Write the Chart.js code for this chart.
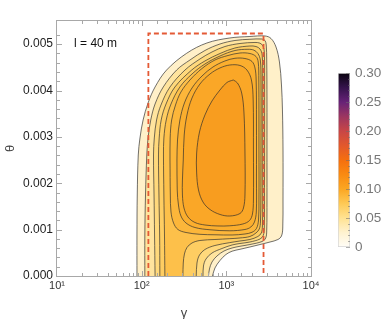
<!DOCTYPE html>
<html><head><meta charset="utf-8">
<script src="https://cdn.jsdelivr.net/npm/chart.js@4"></script>
<style>
html,body{margin:0;padding:0;background:#fff;}
#wrap{position:relative;width:390px;height:319px;overflow:hidden;}
#main{position:absolute;left:0;top:0;}
#cb{position:absolute;left:338px;top:60px;}
</style></head><body>
<div id="wrap"><canvas id="main" width="390" height="319"></canvas><canvas id="cb" width="52" height="200"></canvas></div>
<script>
// ---------- data ----------
const xRange = [10, 10000];          // gamma axis (log)
const yRange = [0, 0.0055];          // theta axis
const yMinorStep = 0.0002;
const yMajorStep = 0.001;
const contourLevels = [0.01, 0.02, 0.03, 0.04, 0.05, 0.06, 0.07, 0.08, 0.09];

const c1Gamma = [88, 88, 88.7, 91.2, 95.5, 104, 119, 144, 197, 340, 590, 1100, 1900, 2860, 3370, 3860, 4240, 4480, 4600, 4670, 4670, 4640, 4480, 4070, 3280, 2500, 1900, 1450, 1170, 990, 841, 734, 686];
const c1Theta = [0, 0.000884, 0.001747, 0.002610, 0.002977, 0.003365, 0.003732, 0.004077, 0.004443, 0.004804, 0.005026, 0.005134, 0.005166, 0.005177, 0.005123, 0.004940, 0.004616, 0.004120, 0.003581, 0.002718, 0.001639, 0.001035, 0.000863, 0.000787, 0.000733, 0.000679, 0.000626, 0.000576, 0.000535, 0.000464, 0.000334, 0.000173, 0];

const c2Gamma = [109, 109, 111, 115, 119, 128, 144, 180, 259, 372, 559, 841, 1265, 1900, 2640, 2860, 2960, 3000, 3020, 3020, 3020, 3000, 2920, 2640, 1900, 1450, 1170, 938, 775, 677, 632, 615];
const c2Theta = [0, 0.000884, 0.001747, 0.002610, 0.002977, 0.003365, 0.003710, 0.004077, 0.004443, 0.004659, 0.004864, 0.005004, 0.005080, 0.005106, 0.005112, 0.005080, 0.004983, 0.004659, 0.003796, 0.002718, 0.001639, 0.000992, 0.000820, 0.000744, 0.000679, 0.000641, 0.000604, 0.000539, 0.000431, 0.000302, 0.000151, 0];

const c3Gamma = [144, 142, 140, 138, 141, 150, 169, 216, 325, 488, 677, 963, 1450, 2180, 2500, 2710, 2810, 2830, 2830, 2820, 2810, 2730, 2500, 1900, 1450, 1170, 888, 677, 575, 537, 530];
const c3Theta = [0, 0.000884, 0.001747, 0.002610, 0.002977, 0.003365, 0.003688, 0.004077, 0.004443, 0.004681, 0.004832, 0.004950, 0.005015, 0.005037, 0.005022, 0.004961, 0.004832, 0.004228, 0.002718, 0.001639, 0.001035, 0.000874, 0.000798, 0.000733, 0.000701, 0.000669, 0.000593, 0.000496, 0.000367, 0.000216, 0];

const c4Gamma = [164, 163, 160, 158, 161, 170, 194, 247, 390, 559, 841, 1265, 1900, 2240, 2500, 2650, 2690, 2690, 2690, 2670, 2590, 2360, 1900, 1450, 1100, 734, 559, 482, 450, 441];
const c4Theta = [0, 0.000884, 0.001747, 0.002610, 0.002977, 0.003365, 0.003710, 0.004077, 0.004443, 0.004638, 0.004799, 0.004918, 0.004961, 0.004950, 0.004896, 0.004767, 0.004228, 0.002718, 0.001639, 0.001079, 0.000928, 0.000852, 0.000787, 0.000755, 0.000720, 0.000658, 0.000572, 0.000453, 0.000280, 0];

const c5Gamma = [188, 186, 183, 181, 183, 195, 222, 283, 393, 559, 841, 1265, 1800, 2120, 2360, 2520, 2570, 2570, 2560, 2530, 2450, 2240, 1900, 1450, 1100, 734, 488, 393, 343, 320, 310, 307];
const c5Theta = [0, 0.000884, 0.001747, 0.002610, 0.002977, 0.003365, 0.003710, 0.004077, 0.004357, 0.004573, 0.004745, 0.004864, 0.004890, 0.004871, 0.004799, 0.004659, 0.004228, 0.002718, 0.001639, 0.001165, 0.001014, 0.000928, 0.000852, 0.000820, 0.000805, 0.000787, 0.000766, 0.000712, 0.000615, 0.000475, 0.000280, 0];

const c6Gamma = [216, 218, 222, 238, 268, 334, 488, 734, 1170, 1660, 2010, 2270, 2400, 2430, 2430, 2420, 2380, 2240, 1900, 1450, 1045, 734, 516, 372, 291, 251, 226, 217];
const c6Theta = [0.002502, 0.001747, 0.001380, 0.001143, 0.001003, 0.000938, 0.000899, 0.000889, 0.000884, 0.000906, 0.000943, 0.001025, 0.001208, 0.001639, 0.002718, 0.004228, 0.004616, 0.004735, 0.004799, 0.004810, 0.004756, 0.004659, 0.004476, 0.004228, 0.003969, 0.003688, 0.003365, 0.002977];

const c7Gamma = [261, 263, 272, 291, 334, 426, 641, 1100, 1660, 1950, 2150, 2260, 2270, 2270, 2250, 2180, 2010, 1660, 1265, 963, 695, 516, 393, 320, 283, 265];
const c7Theta = [0.002502, 0.001855, 0.001531, 0.001294, 0.001143, 0.001046, 0.000997, 0.000975, 0.001003, 0.001057, 0.001165, 0.001380, 0.002071, 0.003365, 0.004228, 0.004487, 0.004627, 0.004691, 0.004696, 0.004638, 0.004508, 0.004314, 0.004055, 0.003732, 0.003365, 0.002934];

const c8Gamma = [310, 303, 303, 316, 352, 426, 559, 796, 1100, 1570, 1880, 2035, 2090, 2090, 2075, 1980, 1750, 1450, 1100, 841, 641, 488, 393, 343, 318];
const c8Theta = [0.002502, 0.002071, 0.001747, 0.001467, 0.001273, 0.001154, 0.001100, 0.001079, 0.001083, 0.001122, 0.001197, 0.001337, 0.001639, 0.002718, 0.003796, 0.004228, 0.004443, 0.004541, 0.004551, 0.004487, 0.004357, 0.004141, 0.003839, 0.003473, 0.003041];

const c9Gamma = [1207, 1354, 1518, 1616, 1660, 1660, 1594, 1450, 1100, 841, 641, 530, 469, 446, 446, 482, 559, 677, 841, 1017];
const c9Theta = [0.004228, 0.004163, 0.003947, 0.003516, 0.002653, 0.001747, 0.001467, 0.001348, 0.001294, 0.001327, 0.001434, 0.001596, 0.001855, 0.002222, 0.002653, 0.003106, 0.003473, 0.003775, 0.004012, 0.004174];

const boxGamma = [120, 120, 2750, 2750];
const boxTheta = [0, 0.00523, 0.00523, 0];

const noteText = 'l = 40 m';
const noteGamma = 15.9;
const noteTheta = 0.005;

const cbRange = [0, 0.30];
const cbLabelStep = 0.05;
const cbStopValues = [0, 0.025, 0.05, 0.075, 0.10, 0.125, 0.15, 0.175, 0.20, 0.225, 0.25, 0.275, 0.30];

// ---------- styles ----------
const FONT = '"Liberation Sans", Arial, sans-serif';
const bandColors = ['#fff0c9', '#ffe49e', '#ffd97c', '#fecd62', '#fdc04a', '#fcb63a', '#fbae2e', '#faa727', '#f89d1f'];
const cbStopColors = ['#fffdf7', '#fff2cf', '#ffe291', '#fec955', '#fba622', '#f98a12', '#f56f0e', '#e2582c', '#c84646', '#9c3660', '#672277', '#35134c', '#0a0410'];

Chart.defaults.font.family = FONT;

const contours = [
  [c1Gamma, c1Theta, false], [c2Gamma, c2Theta, false], [c3Gamma, c3Theta, false],
  [c4Gamma, c4Theta, false], [c5Gamma, c5Theta, false], [c6Gamma, c6Theta, true],
  [c7Gamma, c7Theta, true], [c8Gamma, c8Theta, true], [c9Gamma, c9Theta, true]
];

function toPoints(g, t, closed) {
  const p = g.map((v, i) => ({x: v, y: t[i]}));
  if (closed) p.push({x: g[0], y: t[0]});
  return p;
}

const datasets = contours.map((c, i) => ({
  label: 'level ' + contourLevels[i],
  data: toPoints(c[0], c[1], c[2]),
  showLine: true,
  fill: 'shape',
  backgroundColor: bandColors[i],
  borderColor: 'rgba(45,45,45,0.85)',
  borderWidth: 0.8,
  pointRadius: 0,
  tension: 0.35,
  order: 20 - i
}));
datasets.push({
  label: 'box',
  data: toPoints(boxGamma, boxTheta, false),
  showLine: true,
  fill: false,
  borderColor: '#e45a36',
  borderWidth: 1.8,
  borderDash: [5, 3],
  pointRadius: 0,
  tension: 0,
  order: 1
});

const sup = {1: '\u00b9', 2: '\u00b2', 3: '\u00b3', 4: '\u2074'};
function isPow10(v) { const e = Math.log10(v); return Math.abs(e - Math.round(e)) < 1e-9; }
function isMult(v, s) { const r = v / s; return Math.abs(r - Math.round(r)) < 1e-6; }

const framePlugin = {
  id: 'frame',
  afterDraw(chart) {
    const {ctx, chartArea: a, scales: {x, y}} = chart;
    ctx.save();
    ctx.strokeStyle = '#a8a8a8';
    ctx.lineWidth = 1;
    ctx.strokeRect(a.left - 0.5, a.top - 0.5, a.right - a.left + 1, a.bottom - a.top + 1);
    ctx.beginPath();
    x.ticks.forEach(t => {
      const v = t.value;
      if (v <= xRange[0] || v >= xRange[1]) return;
      const px = Math.round(x.getPixelForValue(v)) + 0.5;
      const len = isPow10(v) ? 5 : 3;
      ctx.moveTo(px, a.bottom); ctx.lineTo(px, a.bottom - len);
      ctx.moveTo(px, a.top); ctx.lineTo(px, a.top + len);
    });
    y.ticks.forEach(t => {
      const v = t.value;
      if (v <= yRange[0] || v >= yRange[1] || !isMult(v, yMinorStep)) return;
      const py = Math.round(y.getPixelForValue(v)) + 0.5;
      const len = isMult(v, yMajorStep) ? 5 : 3;
      ctx.moveTo(a.left, py); ctx.lineTo(a.left + len, py);
      ctx.moveTo(a.right, py); ctx.lineTo(a.right - len, py);
    });
    ctx.stroke();
    ctx.fillStyle = '#111';
    ctx.font = '12px ' + FONT;
    ctx.textBaseline = 'middle';
    ctx.textAlign = 'left';
    ctx.fillText(noteText, x.getPixelForValue(noteGamma), y.getPixelForValue(noteTheta));
    ctx.restore();
  }
};

new Chart(document.getElementById('main'), {
  type: 'scatter',
  data: {datasets},
  plugins: [framePlugin],
  options: {
    responsive: false,
    animation: false,
    devicePixelRatio: 1,
    layout: {padding: {top: 21, right: 79, bottom: 0, left: 0}},
    plugins: {legend: {display: false}, tooltip: {enabled: false}},
    scales: {
      x: {
        type: 'logarithmic', min: xRange[0], max: xRange[1],
        afterFit: s => { s.height = 43; },
        grid: {display: false, drawTicks: false},
        border: {display: false},
        ticks: {autoSkip: false, maxRotation: 0, padding: 3, color: '#333', font: {size: 11},
          callback: v => isPow10(v) ? '10' + sup[Math.round(Math.log10(v))] : ''},
        title: {display: true, text: 'γ', color: '#444', font: {size: 13}, padding: {top: 0, bottom: -2}}
      },
      y: {
        type: 'linear', min: yRange[0], max: yRange[1],
        afterFit: s => { s.width = 57; },
        grid: {display: false, drawTicks: false},
        border: {display: false},
        ticks: {stepSize: yMinorStep, maxTicksLimit: 100, autoSkip: false, padding: 4, color: '#222', font: {size: 12},
          callback: v => isMult(v, yMajorStep) ? v.toFixed(3) : ''},
        title: {display: true, text: 'θ', color: '#444', font: {size: 13}, padding: {top: 3, bottom: 0}}
      }
    }
  }
});

// ---------- colour bar ----------
const cbTickPlugin = {
  id: 'cbticks',
  afterDatasetsDraw(chart) {
    const {ctx, chartArea: a, scales: {y}} = chart;
    ctx.save();
    ctx.strokeStyle = 'rgba(110,110,110,0.55)';
    ctx.lineWidth = 1;
    ctx.beginPath();
    for (let k = 0; k <= 30; k++) {
      const v = k * 0.01;
      const py = Math.round(y.getPixelForValue(v)) + 0.5;
      const len = (k % 5 === 0) ? 4 : 2;
      ctx.moveTo(a.right - len, py); ctx.lineTo(a.right, py);
    }
    ctx.stroke();
    ctx.restore();
  }
};

new Chart(document.getElementById('cb'), {
  type: 'bar',
  data: {
    labels: [''],
    datasets: [{
      data: [[cbRange[0], cbRange[1]]],
      backgroundColor: c => {
        const ch = c.chart;
        if (!ch.chartArea) return '#fff';
        const ys = ch.scales.y;
        const g = ch.ctx.createLinearGradient(0, ys.getPixelForValue(cbRange[0]), 0, ys.getPixelForValue(cbRange[1]));
        cbStopValues.forEach((v, i) => g.addColorStop((v - cbRange[0]) / (cbRange[1] - cbRange[0]), cbStopColors[i]));
        return g;
      },
      borderColor: '#d4d4d4',
      borderWidth: 1,
      borderSkipped: false,
      categoryPercentage: 1,
      barPercentage: 1
    }]
  },
  plugins: [cbTickPlugin],
  options: {
    responsive: false,
    animation: false,
    devicePixelRatio: 1,
    layout: {padding: {top: 9, bottom: 13, left: 0, right: 0}},
    plugins: {legend: {display: false}, tooltip: {enabled: false}},
    scales: {
      x: {display: false},
      y: {
        position: 'right', min: cbRange[0], max: cbRange[1],
        afterFit: s => { s.width = 40; },
        grid: {display: false, drawTicks: false},
        border: {display: false},
        ticks: {stepSize: cbLabelStep, padding: 5, color: '#777', font: {size: 13.5},
          callback: v => Math.abs(v) < 1e-9 ? '0' : v.toFixed(2)}
      }
    }
  }
});
</script>
</body></html>
